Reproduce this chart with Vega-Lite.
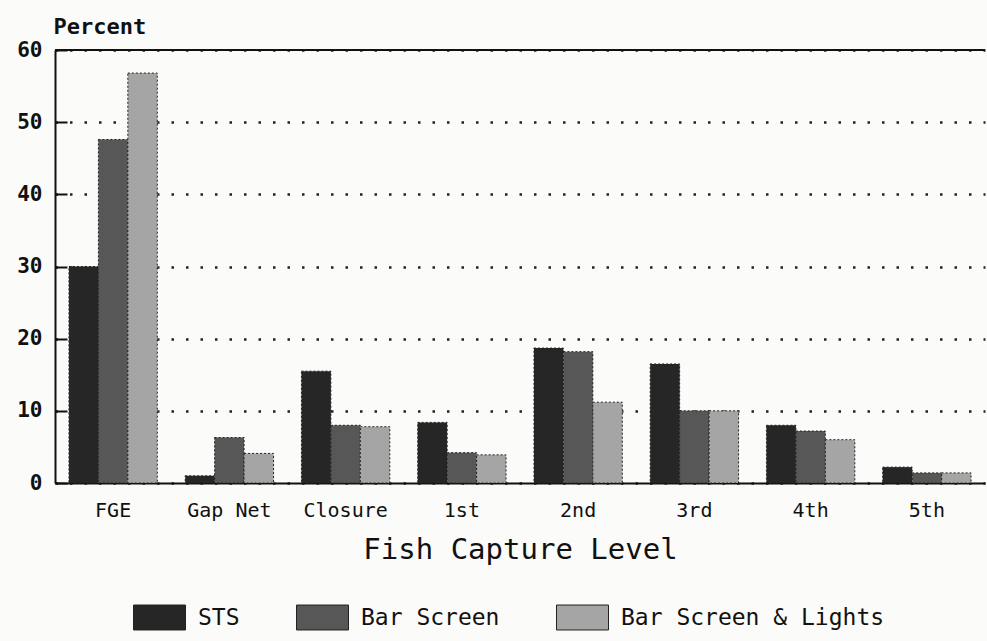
{
  "$schema": "https://vega.github.io/schema/vega-lite/v6.json",
  "autosize": {"type": "none"},
  "width": 930,
  "height": 433,
  "padding": {"left": 55, "top": 50, "right": 2, "bottom": 158},
  "background": "#fbfbf9",
  "config": {
    "view": {"stroke": null},
    "font": "DejaVu Sans Mono",
    "axis": {"labelColor": "#111", "titleColor": "#111", "labelFont": "DejaVu Sans Mono", "titleFont": "DejaVu Sans Mono"},
    "legend": {"labelFont": "DejaVu Sans Mono"}
  },
  "data": {
    "values": [
      {"level": "FGE", "method": "STS", "pct": 30.0},
      {"level": "FGE", "method": "Bar Screen", "pct": 47.6},
      {"level": "FGE", "method": "Bar Screen & Lights", "pct": 56.8},
      {"level": "Gap Net", "method": "STS", "pct": 1.0},
      {"level": "Gap Net", "method": "Bar Screen", "pct": 6.3},
      {"level": "Gap Net", "method": "Bar Screen & Lights", "pct": 4.1},
      {"level": "Closure", "method": "STS", "pct": 15.5},
      {"level": "Closure", "method": "Bar Screen", "pct": 8.0},
      {"level": "Closure", "method": "Bar Screen & Lights", "pct": 7.8},
      {"level": "1st", "method": "STS", "pct": 8.4},
      {"level": "1st", "method": "Bar Screen", "pct": 4.2},
      {"level": "1st", "method": "Bar Screen & Lights", "pct": 3.9},
      {"level": "2nd", "method": "STS", "pct": 18.7},
      {"level": "2nd", "method": "Bar Screen", "pct": 18.2},
      {"level": "2nd", "method": "Bar Screen & Lights", "pct": 11.2},
      {"level": "3rd", "method": "STS", "pct": 16.5},
      {"level": "3rd", "method": "Bar Screen", "pct": 10.0},
      {"level": "3rd", "method": "Bar Screen & Lights", "pct": 10.0},
      {"level": "4th", "method": "STS", "pct": 8.0},
      {"level": "4th", "method": "Bar Screen", "pct": 7.2},
      {"level": "4th", "method": "Bar Screen & Lights", "pct": 6.0},
      {"level": "5th", "method": "STS", "pct": 2.2},
      {"level": "5th", "method": "Bar Screen", "pct": 1.4},
      {"level": "5th", "method": "Bar Screen & Lights", "pct": 1.4}
    ]
  },
  "layer": [
    {
      "mark": {"type": "bar", "stroke": "#222", "strokeWidth": 1, "strokeDash": [2, 2]},
      "encoding": {
        "x": {
          "field": "level", "type": "nominal", "sort": null,
          "scale": {"paddingInner": 0.24, "paddingOuter": 0.12},
          "axis": {
            "title": "Fish Capture Level",
            "labelAngle": 0, "ticks": false, "labelPadding": 17, "labelFontSize": 20,
            "domainColor": "#111", "domainWidth": 2,
            "titleFontSize": 29, "titleFontWeight": "normal", "titlePadding": 15
          }
        },
        "xOffset": {"field": "method", "type": "nominal", "sort": ["STS", "Bar Screen", "Bar Screen & Lights"], "scale": {"paddingInner": 0, "paddingOuter": 0}},
        "y": {
          "field": "pct", "type": "quantitative",
          "scale": {"domain": [0, 60], "nice": false},
          "axis": {
            "title": "Percent", "titleAngle": 0, "titleAlign": "left", "titleBaseline": "middle",
            "titleX": -2, "titleY": -24, "titleFontSize": 22, "titleFontWeight": "bold",
            "values": [0, 10, 20, 30, 40, 50, 60],
            "labelFontSize": 21, "labelFontWeight": "bold", "labelPadding": 25,
            "tickSize": -12, "tickColor": "#111", "tickWidth": 2,
            "domainColor": "#111", "domainWidth": 2,
            "grid": true, "gridColor": "#222", "gridDash": [2.5, 12], "gridWidth": 2.5
          }
        },
        "color": {
          "field": "method", "type": "nominal",
          "sort": ["STS", "Bar Screen", "Bar Screen & Lights"],
          "scale": {"domain": ["STS", "Bar Screen", "Bar Screen & Lights"], "range": ["#262626", "#575757", "#a5a5a5"]},
          "legend": {
            "title": null, "orient": "none", "direction": "horizontal",
            "legendX": 78, "legendY": 541,
            "symbolType": "M-1,-0.48L1,-0.48L1,0.48L-1,0.48Z", "symbolSize": 2704,
            "symbolStrokeColor": "#222", "symbolStrokeWidth": 1, "symbolOpacity": 1,
            "labelFontSize": 23, "labelColor": "#111", "labelOffset": 12, "columnPadding": 54, "labelLimit": 400
          }
        }
      }
    },
    {
      "mark": {"type": "rule", "color": "#111", "strokeWidth": 2},
      "encoding": {"y": {"datum": 60}}
    }
  ]
}
